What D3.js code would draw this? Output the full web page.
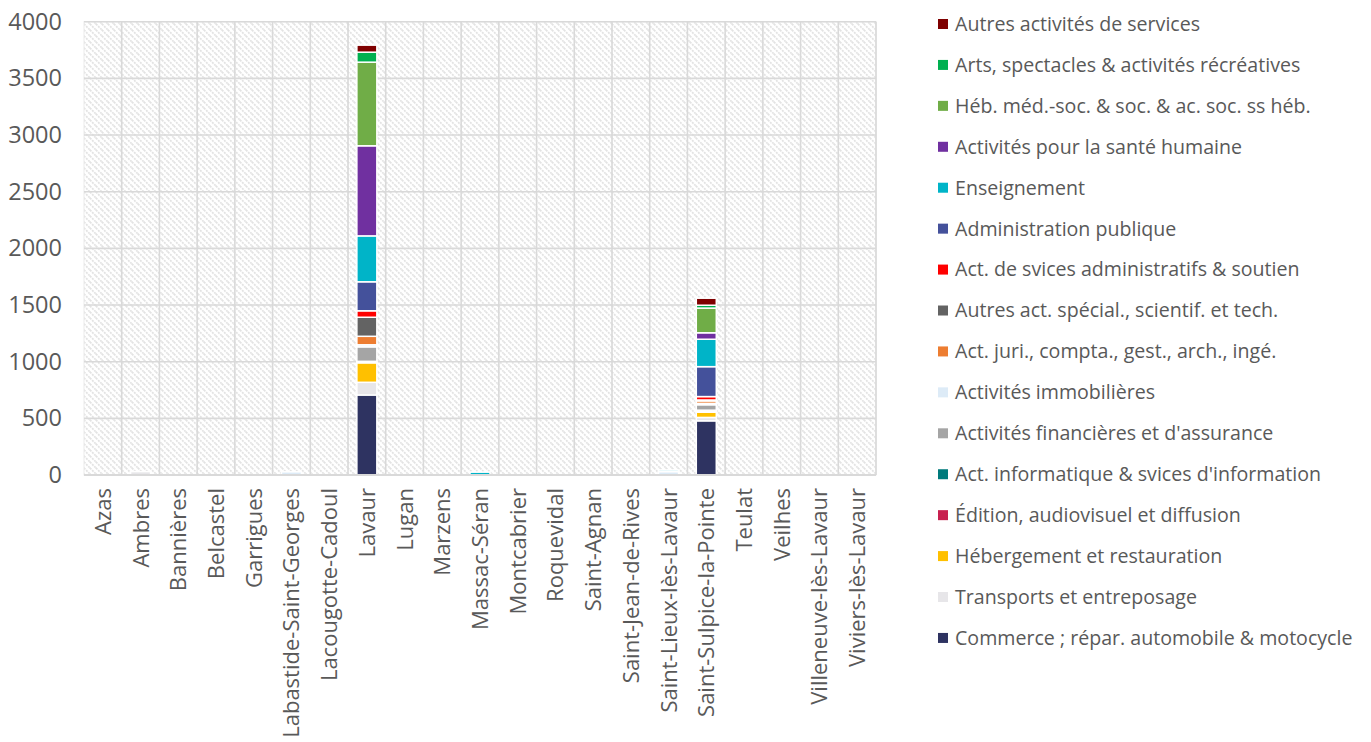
<!DOCTYPE html>
<html>
<head>
<meta charset="utf-8">
<script src="https://cdn.jsdelivr.net/npm/d3@7"></script>
<style>
  html, body { margin: 0; padding: 0; background: #ffffff; }
  svg { display: block; font-family: "Open Sans", "Noto Sans", sans-serif; }
</style>
</head>
<body>
<svg id="chart" width="1371" height="742"></svg>
<script>
// Communes along the x axis
const communes = [
  "Azas", "Ambres", "Bannières", "Belcastel", "Garrigues",
  "Labastide-Saint-Georges", "Lacougotte-Cadoul", "Lavaur", "Lugan", "Marzens",
  "Massac-Séran", "Montcabrier", "Roquevidal", "Saint-Agnan", "Saint-Jean-de-Rives",
  "Saint-Lieux-lès-Lavaur", "Saint-Sulpice-la-Pointe", "Teulat", "Veilhes",
  "Villeneuve-lès-Lavaur", "Viviers-lès-Lavaur"
];

// Activity sectors, in stacking order (bottom to top)
const sectors = [
  "Commerce ; répar. automobile & motocycle",
  "Transports et entreposage",
  "Hébergement et restauration",
  "Édition, audiovisuel et diffusion",
  "Act. informatique & svices d'information",
  "Activités financières et d'assurance",
  "Activités immobilières",
  "Act. juri., compta., gest., arch., ingé.",
  "Autres act. spécial., scientif. et tech.",
  "Act. de svices administratifs & soutien",
  "Administration publique",
  "Enseignement",
  "Activités pour la santé humaine",
  "Héb. méd.-soc. & soc. & ac. soc. ss héb.",
  "Arts, spectacles & activités récréatives",
  "Autres activités de services"
];

const sectorColors = [
  "#2e3361", "#e7e6e9", "#ffc000", "#c8204f", "#007a7c", "#a5a5a5",
  "#ddebf7", "#ed7d31", "#636363", "#ff0000", "#44519b", "#00b4c8",
  "#7030a0", "#70ad47", "#00b050", "#7f0000"
];

// Jobs per sector, one value per commune (same order as communes)
const commerce      = [0, 0, 0, 0, 0, 0, 0, 706, 0, 0, 0, 0, 0, 0, 0, 0, 478, 0, 0, 0, 0];
const transports    = [0, 30, 0, 0, 0, 0, 0, 112, 0, 0, 0, 0, 0, 0, 0, 0, 30, 0, 0, 0, 0];
const hebergement   = [0, 0, 0, 0, 0, 0, 0, 172, 0, 0, 0, 0, 0, 0, 0, 0, 46, 0, 0, 0, 0];
const edition       = [0, 0, 0, 0, 0, 0, 0, 5, 0, 0, 0, 0, 0, 0, 0, 0, 8, 0, 0, 0, 0];
const informatique  = [0, 0, 0, 0, 0, 0, 0, 8, 0, 0, 0, 0, 0, 0, 0, 0, 10, 0, 0, 0, 0];
const financieres   = [0, 0, 0, 0, 0, 0, 0, 128, 0, 0, 0, 0, 0, 0, 0, 0, 48, 0, 0, 0, 0];
const immobilieres  = [0, 0, 0, 0, 0, 28, 0, 18, 0, 0, 0, 0, 0, 0, 0, 30, 12, 0, 0, 0, 0];
const juridiques    = [0, 0, 0, 0, 0, 0, 0, 75, 0, 0, 0, 0, 0, 0, 0, 0, 22, 0, 0, 0, 0];
const scientifiques = [0, 0, 0, 0, 0, 0, 0, 168, 0, 0, 0, 0, 0, 0, 0, 0, 8, 0, 0, 0, 0];
const soutien       = [0, 0, 0, 0, 0, 0, 0, 57, 0, 0, 0, 0, 0, 0, 0, 0, 30, 0, 0, 0, 0];
const adminPublique = [0, 0, 0, 0, 0, 0, 0, 256, 0, 0, 0, 0, 0, 0, 0, 0, 264, 0, 0, 0, 0];
const enseignement  = [0, 0, 0, 0, 0, 0, 0, 405, 0, 0, 25, 0, 0, 0, 0, 14, 242, 0, 0, 0, 0];
const sante         = [0, 0, 0, 0, 0, 0, 0, 795, 0, 0, 0, 0, 0, 0, 0, 0, 57, 0, 0, 0, 0];
const medicoSocial  = [0, 0, 0, 0, 0, 0, 0, 738, 0, 0, 0, 0, 0, 0, 0, 0, 218, 0, 0, 0, 0];
const arts          = [0, 0, 0, 0, 0, 0, 0, 88, 0, 0, 0, 0, 0, 0, 0, 0, 25, 0, 0, 0, 0];
const autresServ    = [0, 0, 0, 0, 0, 0, 0, 62, 0, 0, 0, 0, 0, 0, 0, 0, 62, 0, 0, 0, 0];

const yTicks = [0, 500, 1000, 1500, 2000, 2500, 3000, 3500, 4000];

const seriesValues = [
  commerce, transports, hebergement, edition, informatique, financieres,
  immobilieres, juridiques, scientifiques, soutien, adminPublique,
  enseignement, sante, medicoSocial, arts, autresServ
];

// Row table for d3.stack
const rows = communes.map((c, i) => {
  const r = { commune: c };
  sectors.forEach((s, k) => { r[s] = seriesValues[k][i]; });
  return r;
});

const svg = d3.select("#chart");
const plot = { left: 84, right: 876, top: 21.7, bottom: 475 };
const textColor = "#595959";
const gridColor = "#d9d9d9";

const x = d3.scaleBand()
  .domain(communes)
  .range([plot.left, plot.right])
  .paddingInner(0.47)
  .paddingOuter(0.235);

const y = d3.scaleLinear()
  .domain([0, 4000])
  .range([plot.bottom, plot.top]);

const color = d3.scaleOrdinal().domain(sectors).range(sectorColors);

// Diagonal hatch fill of the plot area
const defs = svg.append("defs");
const pat = defs.append("pattern")
  .attr("id", "hatch")
  .attr("patternUnits", "userSpaceOnUse")
  .attr("width", 6).attr("height", 6);
pat.append("rect").attr("width", 6).attr("height", 6).attr("fill", "#ffffff");
pat.append("path")
  .attr("d", "M0,0 L6,6 M-1,5 L1,7 M5,-1 L7,1")
  .attr("stroke", "#e3e3e3")
  .attr("stroke-width", 1.7)
  .attr("stroke-dasharray", "2,1");

svg.append("rect")
  .attr("x", plot.left).attr("y", plot.top)
  .attr("width", plot.right - plot.left)
  .attr("height", plot.bottom - plot.top)
  .attr("fill", "url(#hatch)")
  .attr("stroke", "#ececec")
  .attr("stroke-width", 1);

// Horizontal gridlines
svg.append("g")
  .selectAll("line")
  .data(yTicks.filter(t => t > 0))
  .join("line")
  .attr("x1", plot.left).attr("x2", plot.right)
  .attr("y1", d => y(d)).attr("y2", d => y(d))
  .attr("stroke", gridColor)
  .attr("stroke-width", 1.6);

// Vertical gridlines between communes
const step = x.step();
svg.append("g")
  .selectAll("line")
  .data(d3.range(1, communes.length + 1))
  .join("line")
  .attr("x1", i => plot.left + i * step)
  .attr("x2", i => plot.left + i * step)
  .attr("y1", plot.top).attr("y2", plot.bottom)
  .attr("stroke", gridColor)
  .attr("stroke-width", 1.6);

// Stacked bars
const stacked = d3.stack().keys(sectors)(rows);
svg.append("g")
  .selectAll("g")
  .data(stacked)
  .join("g")
  .attr("fill", d => color(d.key))
  .selectAll("rect")
  .data(d => d.filter(p => p[1] - p[0] > 0))
  .join("rect")
  .attr("x", d => x(d.data.commune))
  .attr("width", x.bandwidth())
  .attr("y", d => y(d[1]))
  .attr("height", d => y(d[0]) - y(d[1]))
  .attr("stroke", "#ffffff")
  .attr("stroke-width", 1.5);

// X axis baseline
svg.append("line")
  .attr("x1", plot.left).attr("x2", plot.right)
  .attr("y1", plot.bottom).attr("y2", plot.bottom)
  .attr("stroke", gridColor)
  .attr("stroke-width", 2);

// Y axis labels
const yAxis = svg.append("g")
  .attr("transform", `translate(${plot.left},0)`)
  .call(d3.axisLeft(y).tickValues(yTicks).tickSize(0).tickPadding(22).tickFormat(d3.format("d")));
yAxis.select(".domain").remove();
yAxis.selectAll("text")
  .attr("fill", textColor)
  .style("font-size", "23.5px")
  .style("font-family", "'Open Sans', sans-serif");

// X axis labels (rotated)
const xAxis = svg.append("g")
  .attr("transform", `translate(0,${plot.bottom})`)
  .call(d3.axisBottom(x).tickSize(0).tickPadding(0));
xAxis.select(".domain").remove();
xAxis.selectAll("text")
  .attr("fill", textColor)
  .style("font-size", "22px")
  .style("font-family", "'Open Sans', sans-serif")
  .attr("text-anchor", "end")
  .attr("transform", "translate(8,13) rotate(-90)")
  .attr("x", 0).attr("y", 0).attr("dy", "0");

// Legend, top item is the top of the stack
const legendItems = sectors.slice().reverse();
const legend = svg.append("g").attr("transform", "translate(938,24)");
const li = legend.selectAll("g")
  .data(legendItems)
  .join("g")
  .attr("transform", (d, i) => `translate(0,${i * 40.93})`);
li.append("rect")
  .attr("x", 0).attr("y", -5)
  .attr("width", 10).attr("height", 10)
  .attr("fill", d => color(d));
li.append("text")
  .attr("x", 17).attr("y", 0)
  .attr("dy", "0.35em")
  .attr("fill", textColor)
  .style("font-size", "19.6px")
  .text(d => d);
</script>
</body>
</html>
